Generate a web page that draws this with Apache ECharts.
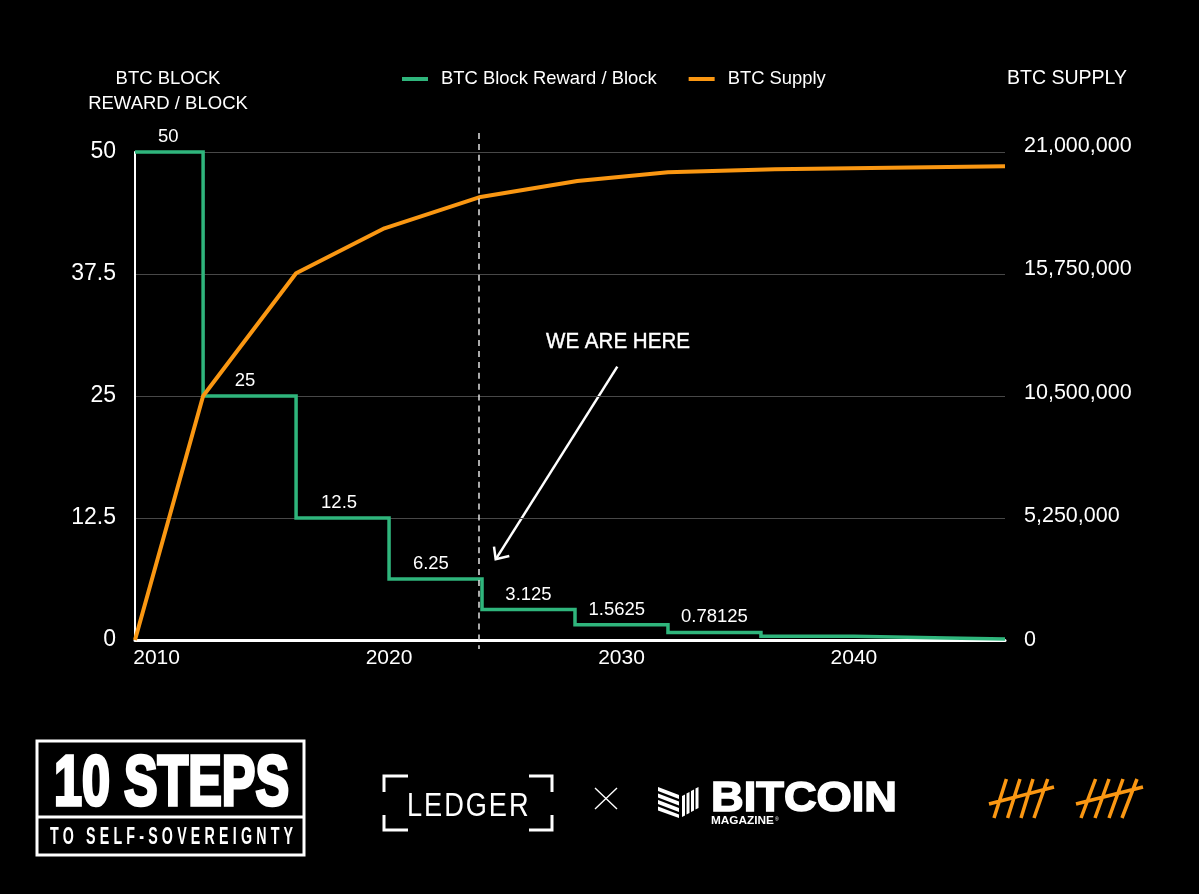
<!DOCTYPE html>
<html><head><meta charset="utf-8">
<style>html,body{margin:0;padding:0;background:#000}#c{width:1199px;height:894px;position:absolute;left:0;top:0}#f{position:absolute;left:0;top:0;width:1199px;height:894px;pointer-events:none}</style>
<script src="https://cdn.jsdelivr.net/npm/echarts@6/dist/echarts.min.js"></script>
</head><body>
<div id="c"></div>
<svg id="f" viewBox="0 0 1199 894" xmlns="http://www.w3.org/2000/svg">
  <g fill="none" stroke="#fff" stroke-width="3">
    <rect x="37" y="741" width="267" height="114"/>
    <line x1="37" y1="817" x2="304" y2="817"/>
    <path d="M408 776H384V792M529 776H552V792M408 830H384V815M529 830H552V815"/>
  </g>
  <text x="54" y="805" font-family="Liberation Sans" font-weight="700" font-size="71" fill="#fff" stroke="#fff" stroke-width="3.5" textLength="235" lengthAdjust="spacingAndGlyphs">10 STEPS</text>
  <text transform="translate(50 844) scale(.62 1)" font-family="Liberation Sans" font-weight="700" font-size="23" fill="#fff" textLength="392" lengthAdjust="spacing">TO SELF-SOVEREIGNTY</text>
  <text transform="translate(407 816) scale(.8 1)" font-family="Liberation Sans" font-size="34" fill="#fff" textLength="152" lengthAdjust="spacing">LEDGER</text>
  <path d="M595 788L617 809M617 788L595 809" stroke="#fff" stroke-width="1.4" fill="none"/>
  <g fill="#fff">
    <polygon points="658,787 679,795 679,799 658,791"/>
    <polygon points="658,793.5 679,801.5 679,805.5 658,797.5"/>
    <polygon points="658,800 679,808 679,812 658,804"/>
    <polygon points="658,806.5 679,814.5 679,818 658,810.5"/>
    <polygon points="682,796 685,794.4 685,815.4 682,817"/>
    <polygon points="686.5,793.5 689.5,791.9 689.5,812.9 686.5,814.5"/>
    <polygon points="691,791 694,789.4 694,810.4 691,812"/>
    <polygon points="695.5,788.6 698.5,787 698.5,808 695.5,809.6"/>
  </g>
  <text x="711" y="811" font-family="Liberation Sans" font-weight="700" font-size="43" fill="#fff" stroke="#fff" stroke-width="1.6" textLength="186" lengthAdjust="spacingAndGlyphs">BITCOIN</text>
  <text x="711" y="824" font-family="Liberation Sans" font-weight="700" font-size="10" fill="#fff" textLength="63" lengthAdjust="spacingAndGlyphs">MAGAZINE</text>
  <text x="775" y="821" font-family="Liberation Sans" font-size="5" fill="#fff">®</text>
  <g stroke="#fa9712" stroke-width="3.5" fill="none">
    <path d="M994 818L1006.4 779M1007.6 818L1020 779M1021 818L1033 779M1034 818L1047.7 779M989 804L1054 787"/>
    <path d="M1081 818L1095.6 779M1095 818L1109 779M1109 818L1123 779M1122 818L1137 779M1076 804L1143 787"/>
  </g>
</svg>
<script>
const axisStart = 2009.07, axisEnd = 2046.5;
const halvingYears = [2009.07, 2012, 2016, 2020, 2024, 2028, 2032, 2036, 2040, 2044, 2046.5];
const rewardValues = [50, 25, 12.5, 6.25, 3.125, 1.5625, 0.78125, 0.390625, 0.1953125, 0.09765625, 0.09765625];
const supplyYears = [2009.07, 2012, 2016, 2019.8, 2023.87, 2028.1, 2032, 2036.6, 2046.5];
const supplyValues = [0, 10370000, 15590000, 17500000, 18820000, 19510000, 19880000, 20010000, 20140000];
const labelYears = [2010.5, 2013.8, 2017.85, 2021.8, 2026, 2029.8, 2034];
const labelRewards = [50, 25, 12.5, 6.25, 3.125, 1.5625, 0.78125];
const leftTicks = [0, 12.5, 25, 37.5, 50];
const rightTicks = [0, 5250000, 10500000, 15750000, 21000000];
const yearTicks = [2010, 2020, 2030, 2040];
const nowYear = 2023.87;

const F = 'Liberation Sans';
const zip = (a, b) => a.map((v, i) => [v, b[i]]);
const hiddenX = i => ({type:'value', gridIndex:i, min:axisStart, max:axisEnd, show:false});

const chart = echarts.init(document.getElementById('c'), null, {renderer:'canvas'});
chart.setOption({
  animation:false,
  backgroundColor:'#000',
  textStyle:{fontFamily:F},
  title:[
    {text:'BTC BLOCK\nREWARD / BLOCK', left:163, top:61, textAlign:'center',
     textStyle:{color:'#fff', fontFamily:F, fontWeight:'normal', fontSize:18.5, lineHeight:25}},
    {text:'BTC SUPPLY', left:1062, top:61, textAlign:'center',
     textStyle:{color:'#fff', fontFamily:F, fontWeight:'normal', fontSize:19.5, lineHeight:25}}
  ],
  legend:{
    data:['BTC Block Reward / Block','BTC Supply'], left:397, top:65, icon:'rect',
    itemWidth:26, itemHeight:4, itemGap:32, selectedMode:false,
    textStyle:{color:'#fff', fontFamily:F, fontSize:18.4, padding:[0,0,0,8]}
  },
  grid:[
    {left:135, right:194, top:152, bottom:254},
    {left:135, right:194, top:146, bottom:254},
    {left:135, right:194, top:133, bottom:245}
  ],
  xAxis:[
    {type:'value', gridIndex:0, min:axisStart, max:axisEnd,
     axisLine:{show:true, onZero:false, lineStyle:{color:'#fff', width:3}},
     axisTick:{show:false}, splitLine:{show:false},
     axisLabel:{color:'#fff', fontFamily:F, fontSize:21, margin:8, customValues:yearTicks, formatter:v=>String(v)}},
    hiddenX(1), hiddenX(2)
  ],
  yAxis:[
    {type:'value', gridIndex:0, position:'left', min:0, max:50, interval:12.5,
     axisLine:{show:true, lineStyle:{color:'#fff', width:2}}, axisTick:{show:false},
     splitLine:{show:true, lineStyle:{color:'#484848', width:1}},
     axisLabel:{color:'#fff', fontFamily:F, fontSize:23, margin:19, padding:[6,0,0,0], customValues:leftTicks}},
    {type:'value', gridIndex:1, position:'right', min:0, max:21000000, interval:5250000,
     axisLine:{show:false}, axisTick:{show:false}, splitLine:{show:false},
     axisLabel:{color:'#fff', fontFamily:F, fontSize:21.5, margin:19, padding:[6,0,0,0], customValues:rightTicks,
       formatter:v=>Number(v).toLocaleString('en-US')}},
    {type:'value', gridIndex:2, min:0, max:1, show:false}
  ],
  series:[
    {name:'BTC Block Reward / Block', type:'line', step:'end', xAxisIndex:0, yAxisIndex:0,
     data:zip(halvingYears, rewardValues), showSymbol:false, clip:false, z:3,
     color:'#2fb57c', lineStyle:{color:'#2fb57c', width:3.5, join:'miter'}},
    {name:'BTC Supply', type:'line', xAxisIndex:1, yAxisIndex:1,
     data:zip(supplyYears, supplyValues), showSymbol:false, clip:false, z:4,
     color:'#fa9712', lineStyle:{color:'#fa9712', width:4}},
    {name:'Reward labels', type:'scatter', xAxisIndex:0, yAxisIndex:0, symbolSize:1, z:5,
     itemStyle:{color:'rgba(0,0,0,0)', opacity:1}, silent:true, clip:false,
     data:zip(labelYears, labelRewards),
     label:{show:true, position:'top', distance:5, color:'#fff', opacity:1, fontFamily:F, fontSize:18.5,
       formatter:p=>String(p.value[1])}},
    {name:'Now', type:'line', xAxisIndex:2, yAxisIndex:2, showSymbol:false, silent:true, z:6,
     data:[[nowYear,1],[nowYear,0]], lineStyle:{color:'#e5e5e5', width:1.5, type:[6,4.9]}}
  ],
  graphic:[
    {type:'text', x:546, y:331, scaleX:0.935, silent:true,
     style:{text:'WE ARE HERE', fill:'#fff', stroke:'#fff', lineWidth:0.4, font:'22px "'+F+'"'}},
    {type:'polyline', silent:true, shape:{points:[[617.3,366.7],[495.7,559.3]]},
     style:{stroke:'#fff', lineWidth:2.5, fill:null}},
    {type:'polyline', silent:true, shape:{points:[[494,546.7],[495.7,559.3],[509.3,556]]},
     style:{stroke:'#fff', lineWidth:2.5, fill:null}}
  ]
});
</script>
</body></html>
